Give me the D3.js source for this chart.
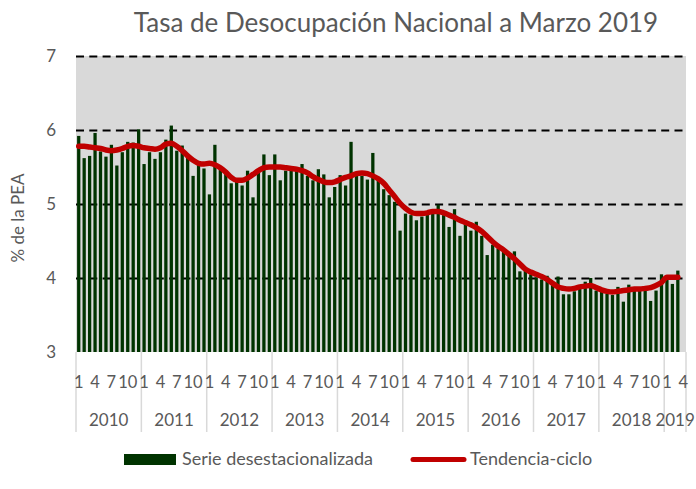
<!DOCTYPE html>
<html>
<head>
<meta charset="utf-8">
<script src="https://cdn.jsdelivr.net/npm/d3@7"></script>
<style>
  body { margin: 0; background: #fff; }
  text { font-family: Lato, 'Open Sans', sans-serif; fill: #595959; }
</style>
</head>
<body>
<div id="chart"></div>
<script>
const years = [2010, 2011, 2012, 2013, 2014, 2015, 2016, 2017, 2018, 2019]
const monthsPerYear = [12, 12, 12, 12, 12, 12, 12, 12, 12, 4]
const monthTicks = [1, 4, 7, 10]
const yTicks = [3, 4, 5, 6, 7]

// serie desestacionalizada, ene 2010 - mar 2019
const desest = [
  5.92, 5.62, 5.65, 5.96, 5.71, 5.64, 5.80, 5.52, 5.70, 5.84, 5.83, 6.01,
  5.54, 5.70, 5.61, 5.70, 5.87, 6.06, 5.72, 5.79, 5.65, 5.38, 5.57, 5.48,
  5.13, 5.80, 5.51, 5.45, 5.28, 5.33, 5.25, 5.45, 5.09, 5.42, 5.67, 5.39,
  5.67, 5.32, 5.45, 5.45, 5.45, 5.54, 5.38, 5.32, 5.47, 5.40, 5.09, 5.23,
  5.39, 5.25, 5.84, 5.38, 5.38, 5.33, 5.69, 5.32, 5.20, 5.12, 5.03, 4.64,
  4.87, 4.85, 4.78, 4.83, 4.87, 4.92, 4.99, 4.85, 4.69, 4.93, 4.57, 4.74,
  4.64, 4.76, 4.57, 4.31, 4.45, 4.40, 4.36, 4.30, 4.36, 4.09, 4.10, 4.05,
  4.01, 3.98, 4.03, 3.95, 4.02, 3.78, 3.78, 3.82, 3.86, 3.95, 4.00, 3.83,
  3.84, 3.79, 3.77, 3.88, 3.68, 3.91, 3.84, 3.83, 3.84, 3.69, 3.83, 4.05,
  3.99, 3.92, 4.10
]

// tendencia-ciclo
const tendencia = [
  5.78, 5.78, 5.77, 5.76, 5.75, 5.73, 5.72, 5.73, 5.75, 5.78, 5.79, 5.78,
  5.76, 5.75, 5.74, 5.76, 5.81, 5.82, 5.78, 5.72, 5.65, 5.59, 5.55, 5.54,
  5.55, 5.53, 5.49, 5.43, 5.36, 5.32, 5.32, 5.35, 5.40, 5.45, 5.49, 5.50,
  5.50, 5.50, 5.49, 5.48, 5.47, 5.45, 5.42, 5.37, 5.33, 5.30, 5.29, 5.30,
  5.33, 5.36, 5.38, 5.41, 5.42, 5.41, 5.38, 5.34, 5.28, 5.19, 5.10, 5.01,
  4.94, 4.89, 4.87, 4.87, 4.88, 4.90, 4.90, 4.88, 4.85, 4.82, 4.78, 4.75,
  4.72, 4.68, 4.63, 4.56, 4.49, 4.43, 4.38, 4.32, 4.26, 4.19, 4.12, 4.08,
  4.05, 4.02, 3.98, 3.93, 3.88, 3.86, 3.85, 3.86, 3.88, 3.89, 3.90, 3.87,
  3.84, 3.82, 3.81, 3.82, 3.83, 3.84, 3.85, 3.85, 3.86, 3.87, 3.90, 3.94,
  4.01, 4.01, 4.01
]

const width = 696
const height = 489
const plot = { left: 76, right: 686, top: 56, bottom: 352 }

// one category per month
const categories = []
years.forEach((yr, i) => {
  for (let m = 1; m <= monthsPerYear[i]; m++) categories.push({ year: yr, month: m, key: yr + '-' + m })
})

const svg = d3.select('#chart')
  .append('svg')
  .attr('width', width)
  .attr('height', height)

const x = d3.scaleBand()
  .domain(categories.map(d => d.key))
  .range([plot.left, plot.right])
  .paddingInner(0.4)
  .paddingOuter(0.2)

const y = d3.scaleLinear()
  .domain([3, 7])
  .range([plot.bottom, plot.top])

// title
svg.append('text')
  .attr('x', 396)
  .attr('y', 32)
  .attr('text-anchor', 'middle')
  .style('font-size', '26px')
  .attr('fill', '#505050')
  .text('Tasa de Desocupación Nacional a Marzo 2019')

// plot background
svg.append('rect')
  .attr('x', plot.left)
  .attr('y', y(7))
  .attr('width', plot.right - plot.left)
  .attr('height', y(3) - y(7))
  .attr('fill', '#d9d9d9')

// y axis with dashed gridlines
const yAxis = d3.axisLeft(y)
  .tickValues(yTicks)
  .tickSize(-(plot.right - plot.left))
  .tickPadding(20)
  .tickFormat(d3.format('d'))

const yg = svg.append('g')
  .attr('class', 'y-axis')
  .attr('transform', 'translate(' + plot.left + ',0)')
  .call(yAxis)

yg.select('.domain').remove()
yg.selectAll('.tick line')
  .attr('stroke', '#000')
  .attr('stroke-width', 2.2)
  .attr('stroke-dasharray', '8,5.3')
  .filter(d => d === 3).remove()
yg.selectAll('.tick text')
  .style('font-size', '17px')
  .attr('fill', '#595959')

svg.append('text')
  .attr('transform', 'translate(24,218) rotate(-90)')
  .attr('text-anchor', 'middle')
  .style('font-size', '17px')
  .text('% de la PEA')

// bars
svg.selectAll('.bar')
  .data(desest)
  .enter()
  .append('rect')
  .attr('class', 'bar')
  .attr('x', (d, i) => x(categories[i].key))
  .attr('y', d => y(d))
  .attr('width', x.bandwidth())
  .attr('height', d => y(3) - y(d))
  .attr('fill', '#003300')

// trend line
const line = d3.line()
  .x((d, i) => x(categories[i].key) + x.bandwidth() / 2)
  .y(d => y(d))
  .curve(d3.curveMonotoneX)

svg.append('path')
  .datum(tendencia)
  .attr('d', line)
  .attr('fill', 'none')
  .attr('stroke', '#c00000')
  .attr('stroke-width', 5.5)
  .attr('stroke-linecap', 'round')
  .attr('stroke-linejoin', 'round')

// x axis: months and years
const step = x.step()
let start = 0
const bounds = []
years.forEach((yr, i) => {
  bounds.push({ year: yr, from: start, to: start + monthsPerYear[i] })
  start += monthsPerYear[i]
})

const xg = svg.append('g').attr('class', 'x-axis')

const sepX = bounds.map(b => plot.left + b.from * step).concat([plot.right])
xg.selectAll('.sep')
  .data(sepX)
  .enter()
  .append('line')
  .attr('x1', d => d)
  .attr('x2', d => d)
  .attr('y1', plot.bottom)
  .attr('y2', 432)
  .attr('stroke', '#d9d9d9')
  .attr('stroke-width', 1.5)

const monthLabels = categories.filter(c => monthTicks.includes(c.month))
xg.selectAll('.month')
  .data(monthLabels)
  .enter()
  .append('text')
  .attr('x', d => x(d.key) + x.bandwidth() / 2)
  .attr('y', 388)
  .attr('text-anchor', 'middle')
  .style('font-size', '16.5px')
  .text(d => d.month)

xg.selectAll('.year')
  .data(bounds)
  .enter()
  .append('text')
  .attr('x', d => plot.left + (d.from + d.to) / 2 * step)
  .attr('y', 426)
  .attr('text-anchor', 'middle')
  .style('font-size', '17px')
  .text(d => d.year)

// legend
const legend = svg.append('g')
legend.append('rect')
  .attr('x', 124).attr('y', 454)
  .attr('width', 52).attr('height', 11)
  .attr('fill', '#003300')
legend.append('text')
  .attr('x', 182).attr('y', 465)
  .style('font-size', '18px')
  .text('Serie desestacionalizada')
legend.append('line')
  .attr('x1', 413).attr('x2', 464)
  .attr('y1', 459.5).attr('y2', 459.5)
  .attr('stroke', '#c00000')
  .attr('stroke-width', 5)
  .attr('stroke-linecap', 'round')
legend.append('text')
  .attr('x', 470).attr('y', 465)
  .style('font-size', '18px')
  .text('Tendencia-ciclo')
</script>
</body>
</html>
